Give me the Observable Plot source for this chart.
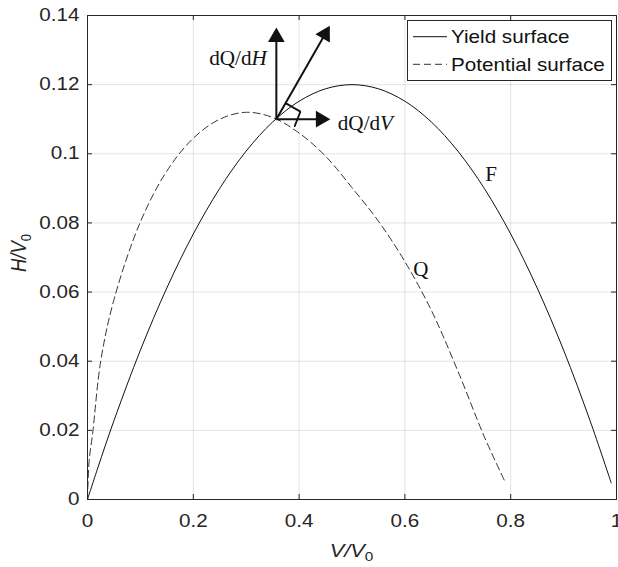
<!DOCTYPE html>
<html><head><meta charset="utf-8">
<script src="https://cdn.jsdelivr.net/npm/d3@7"></script>
<script src="https://cdn.jsdelivr.net/npm/@observablehq/plot@0.6"></script>
<style>body{margin:0;background:#fff;} svg{display:block;}</style>
</head><body><div id="chart"></div>
<script>
// Yield surface F
const yieldV = [0, 0.02, 0.05, 0.1, 0.15, 0.2, 0.25, 0.3, 0.35, 0.4, 0.45, 0.5, 0.55, 0.6, 0.65, 0.7, 0.75, 0.8, 0.85, 0.9, 0.95, 0.99];
const yieldH = [0, 0.0094, 0.0228, 0.0432, 0.0612, 0.0768, 0.0900, 0.1008, 0.1092, 0.1152, 0.1188, 0.1200, 0.1188, 0.1152, 0.1092, 0.1008, 0.0900, 0.0768, 0.0612, 0.0432, 0.0228, 0.0048];
// Potential surface Q
const potV = [0, 0.003, 0.01, 0.025, 0.05, 0.1, 0.15, 0.2, 0.25, 0.3, 0.35, 0.4, 0.45, 0.5, 0.55, 0.6, 0.65, 0.7, 0.75, 0.79];
const potH = [0, 0.011, 0.0195, 0.040, 0.0578, 0.0803, 0.0950, 0.1045, 0.1100, 0.1120, 0.1105, 0.1060, 0.0993, 0.0902, 0.0805, 0.0688, 0.0547, 0.0372, 0.0182, 0.0049];
const xTicks = [0, 0.2, 0.4, 0.6, 0.8, 1];
const yTicks = [0, 0.02, 0.04, 0.06, 0.08, 0.1, 0.12, 0.14];
// Gradient arrows: common origin and tips
const arrowOriginV = 0.357, arrowOriginH = 0.110;
const arrowTipV = [0.357, 0.459, 0.458];
const arrowTipH = [0.1365, 0.110, 0.137];
// right-angle marker
const rightAngleV = [0.376, 0.4025, 0.3917];
const rightAngleH = [0.1145, 0.1122, 0.1080];
// curve labels
const curveLabels = ["F", "Q"];
const curveLabelV = [0.752, 0.616];
const curveLabelH = [0.0921, 0.0646];
// gradient labels
const gradLabelV = [0.340, 0.474];
const gradLabelH = [0.1254, 0.1066];
const legendLabels = ["Yield surface", "Potential surface"];

const W = 618, H = 567, mL = 87, mR = 2, mT = 15, mB = 68;
const innerW = W - mL - mR, innerH = H - mT - mB;
const kx = innerW / 1, ky = innerH / 0.14;
const stretch = 1.18; // horizontal glyph stretch seen in the reference

const yieldData = yieldV.map((v, i) => ({v, h: yieldH[i]}));
const potData = potV.map((v, i) => ({v, h: potH[i]}));
const arrows = arrowTipV.map((tv, i) => {
  const th = arrowTipH[i];
  const px = (tv - arrowOriginV) * kx, py = (th - arrowOriginH) * ky;
  const len = Math.hypot(px, py), ux = px / len, uy = py / len;
  const off = 9.6;
  return {x1: arrowOriginV, y1: arrowOriginH,
          cx: tv - off * ux / kx, cy: th - off * uy / ky,
          angle: Math.atan2(ux, uy) * 180 / Math.PI};
});
const raData = rightAngleV.map((v, i) => ({v, h: rightAngleH[i]}));
const labelData = curveLabels.map((t, i) => ({t, v: curveLabelV[i], h: curveLabelH[i]}));

const font = "'Liberation Sans', Arial, Helvetica, sans-serif";
const serif = "'Liberation Serif', 'Times New Roman', serif";
const ink = "#262626";

const plot = Plot.plot({
  width: W, height: H,
  marginLeft: mL, marginRight: mR, marginTop: mT, marginBottom: mB,
  style: {fontFamily: font, fontSize: "17.5px", color: ink, background: "#fff"},
  x: {domain: [0, 1]},
  y: {domain: [0, 0.14]},
  marks: [
    Plot.gridX(xTicks, {stroke: "#000", strokeOpacity: 0.11}),
    Plot.gridY(yTicks, {stroke: "#000", strokeOpacity: 0.11}),
    Plot.axisX(xTicks, {tickSize: 0, tickPadding: 15, label: null, tickFormat: d => String(d), fill: ink, fontSize: 17.5}),
    Plot.axisY(yTicks, {tickSize: 0, tickPadding: 8, label: null, tickFormat: d => String(d), fill: ink, fontSize: 17.5}),
    Plot.tickX(xTicks, {x: d => d, stroke: ink, insetTop: innerH - 5}),
    Plot.tickX(xTicks, {x: d => d, stroke: ink, insetBottom: innerH - 5}),
    Plot.tickY(yTicks, {y: d => d, stroke: ink, insetRight: innerW - 5}),
    Plot.tickY(yTicks, {y: d => d, stroke: ink, insetLeft: innerW - 5}),
    Plot.line(potData, {x: "v", y: "h", curve: "catmull-rom", stroke: "#333", strokeWidth: 1, strokeDasharray: "7,4"}),
    Plot.line(yieldData, {x: "v", y: "h", curve: "catmull-rom", stroke: "#111", strokeWidth: 1}),
    Plot.line(raData, {x: "v", y: "h", stroke: "#111", strokeWidth: 1.8, strokeLinejoin: "miter"}),
    Plot.link(arrows, {x1: "x1", y1: "y1", x2: "cx", y2: "cy", stroke: "#111", strokeWidth: 2}),
    Plot.dot(arrows, {x: "cx", y: "cy", symbol: "triangle", r: 6.2, rotate: "angle", fill: "#111", stroke: "none"}),
    Plot.text(labelData, {x: "v", y: "h", text: "t", textAnchor: "start", lineAnchor: "bottom", fontFamily: serif, fontSize: 21, fill: "#111"}),
    Plot.frame({stroke: ink, strokeWidth: 1})
  ]
});
document.getElementById("chart").appendChild(plot);

const svg = d3.select(plot);
// stretch tick labels horizontally around their anchor
svg.selectAll('g[aria-label="x-axis tick label"] text, g[aria-label="y-axis tick label"] text').each(function () {
  const t = this.getAttribute("transform") || "";
  this.setAttribute("transform", t + ` scale(${stretch},1)`);
});

const sx = plot.scale("x"), sy = plot.scale("y");
// gradient labels with italic H / V
function gradLabel(i, anchor, letter) {
  const x = sx.apply(gradLabelV[i]), y = sy.apply(gradLabelH[i]);
  const t = svg.append("text").attr("transform", `translate(${x},${y}) scale(1.06,1)`)
    .attr("text-anchor", anchor).attr("font-family", serif).attr("font-size", 20).attr("fill", "#111");
  t.append("tspan").text("dQ/d");
  t.append("tspan").attr("font-style", "italic").text(letter);
}
gradLabel(0, "end", "H");
gradLabel(1, "start", "V");

// axis labels
const xl = svg.append("text").attr("transform", `translate(${mL + innerW / 2},557) scale(${stretch},1)`)
  .attr("text-anchor", "middle").attr("font-family", font).attr("font-size", 18.5).attr("fill", ink);
xl.append("tspan").attr("font-style", "italic").text("V/V");
xl.append("tspan").attr("font-size", 13).attr("dy", 4).text("0");
const yl = svg.append("text").attr("transform", `translate(26,${mT + innerH / 2 - 4}) rotate(-90) scale(1,${stretch})`)
  .attr("text-anchor", "middle").attr("font-family", font).attr("font-size", 18.5).attr("fill", ink);
yl.append("tspan").attr("font-style", "italic").text("H/V");
yl.append("tspan").attr("font-size", 13).attr("dy", 4).text("0");

// legend
const lg = svg.append("g");
lg.append("rect").attr("x", 407.5).attr("y", 20.5).attr("width", 204).attr("height", 60)
  .attr("fill", "#fff").attr("stroke", ink).attr("stroke-width", 1);
const styles = [{dash: null, stroke: "#111"}, {dash: "7,4", stroke: "#333"}];
legendLabels.forEach((t, i) => {
  const y = 36.7 + i * 27.6;
  lg.append("line").attr("x1", 413).attr("x2", 447).attr("y1", y).attr("y2", y)
    .attr("stroke", styles[i].stroke).attr("stroke-dasharray", styles[i].dash);
  lg.append("text").attr("transform", `translate(451,${y + 6.3}) scale(${stretch},1)`)
    .attr("text-anchor", "start").attr("font-family", font).attr("font-size", 17.5)
    .attr("fill", "#111").text(t);
});
</script>
</body></html>
